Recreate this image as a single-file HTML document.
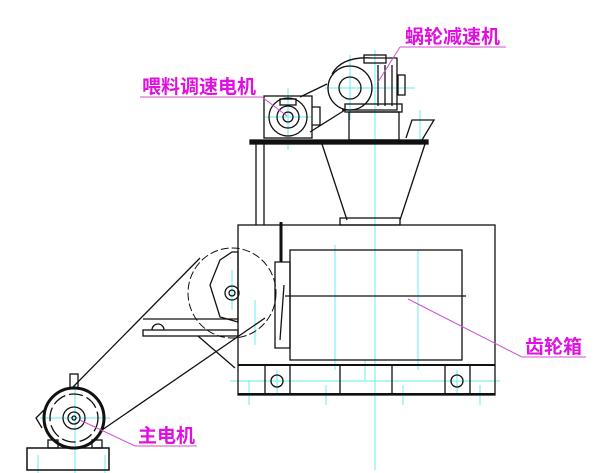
<!DOCTYPE html>
<html><head><meta charset="utf-8"><style>
html,body{margin:0;padding:0;background:#fff;width:600px;height:473px;overflow:hidden}
svg{display:block}
text{font-family:"Liberation Sans","Noto Sans CJK SC",sans-serif;fill:#e010e0;font-size:19px;font-weight:bold}
</style></head><body>
<svg width="600" height="473" viewBox="0 0 600 473" xmlns="http://www.w3.org/2000/svg">
<g stroke="#6ee" stroke-width="1" fill="none">
<line x1="375" y1="50" x2="375" y2="470"/>
<line x1="288" y1="88" x2="288" y2="150"/>
<line x1="350" y1="55" x2="350" y2="120"/>
<line x1="325" y1="88" x2="415" y2="88"/>
<line x1="265" y1="117" x2="312" y2="117"/>
<line x1="420" y1="110" x2="420" y2="145"/>
<line x1="335" y1="245" x2="335" y2="370"/>
<line x1="418" y1="250" x2="418" y2="370"/>
<line x1="365" y1="360" x2="365" y2="380"/>
<line x1="255" y1="300" x2="255" y2="345"/>
<line x1="230" y1="381" x2="500" y2="381"/>
<line x1="277" y1="370" x2="277" y2="395"/>
<line x1="457" y1="370" x2="457" y2="395"/>
<line x1="249" y1="380" x2="249" y2="405"/>
<line x1="326" y1="385" x2="326" y2="405"/>
<line x1="403" y1="385" x2="403" y2="405"/>
<line x1="480" y1="385" x2="480" y2="405"/>
<line x1="75" y1="385" x2="75" y2="473"/>
<line x1="40" y1="418" x2="110" y2="418"/>
<line x1="38" y1="455" x2="38" y2="473"/>
<line x1="105" y1="455" x2="105" y2="473"/>
<line x1="232" y1="270" x2="232" y2="310"/>
</g>
<g stroke="#111" stroke-width="1.3" fill="none">
<rect x="238" y="225" width="257" height="170"/>
<line x1="238" y1="365" x2="495" y2="365" stroke-width="2"/>
<line x1="238" y1="394" x2="495" y2="394" stroke-width="2"/>
<line x1="265" y1="365" x2="265" y2="394"/><line x1="290" y1="365" x2="290" y2="394"/>
<line x1="340" y1="365" x2="340" y2="394"/><line x1="392" y1="365" x2="392" y2="394"/>
<line x1="445" y1="365" x2="445" y2="394"/><line x1="470" y1="365" x2="470" y2="394"/>
<circle cx="277" cy="381" r="6"/><circle cx="457" cy="381" r="6"/>
<rect x="290" y="250" width="172" height="110"/>
<line x1="285" y1="296" x2="466" y2="296"/>
<polygon points="275,262 290,262 290,348 275,348"/>
<line x1="284" y1="285" x2="280" y2="340"/>
<line x1="281" y1="222" x2="281" y2="262" stroke-width="3"/>
<rect x="340" y="218" width="60" height="7"/>
<ellipse cx="232" cy="293" rx="44" ry="45" stroke-dasharray="8,3" stroke-width="1"/>
<path d="M210,285 l10,-25 l12,-8 l6,0 v70 l-18,-5 z"/>
<circle cx="232" cy="293" r="7"/><circle cx="232" cy="293" r="3"/>
<rect x="143" y="330" width="95" height="6"/>
<path d="M152,330 a6,6 0 0 1 12,0"/>
<line x1="143" y1="319" x2="238" y2="319"/>
<line x1="198" y1="336" x2="235" y2="368"/>
<line x1="72" y1="388" x2="200" y2="258"/>
<line x1="102" y1="430" x2="265" y2="318"/>
<circle cx="74" cy="418" r="30" stroke-width="3"/>
<circle cx="74" cy="418" r="24" stroke-dasharray="14,4"/>
<circle cx="74" cy="418" r="11"/><circle cx="74" cy="418" r="6"/><circle cx="74" cy="418" r="2"/>
<rect x="70" y="374" width="8" height="14"/>
<path d="M44,410 l-8,8 l6,10"/>
<rect x="27" y="448" width="82" height="22" stroke-width="1.5"/>
<rect x="48" y="440" width="10" height="8"/><rect x="92" y="440" width="10" height="8"/>
<rect x="250" y="140" width="178" height="4" fill="#111"/>
<line x1="256" y1="144" x2="256" y2="225"/><line x1="264" y1="144" x2="264" y2="225"/>
<line x1="322" y1="144" x2="347" y2="220"/>
<line x1="425" y1="144" x2="400" y2="220"/>
<path d="M406,138 l6,-18 h22 l-12,20"/>
<rect x="264" y="96" width="48" height="42"/>
<circle cx="288" cy="117" r="19"/><circle cx="288" cy="117" r="11"/><circle cx="288" cy="117" r="5"/>
<rect x="280" y="99" width="16" height="6"/>
<path d="M312,107 h8 v18 h-8"/>
<circle cx="350" cy="88" r="22"/><circle cx="350" cy="88" r="11"/>
<path d="M332,74 q10,-18 40,-16 h25 v52 h-55"/>
<rect x="364" y="55" width="22" height="8"/>
<line x1="378" y1="65" x2="378" y2="106"/><line x1="385" y1="65" x2="385" y2="106"/><line x1="392" y1="65" x2="392" y2="106"/>
<rect x="398" y="75" width="7" height="20"/>
<rect x="345" y="104" width="57" height="8"/>
<rect x="349" y="112" width="50" height="28"/>
<line x1="300" y1="97" x2="327" y2="84"/>
<line x1="310" y1="132" x2="345" y2="110"/>
</g>
<g stroke="#d050d0" stroke-width="1" fill="none">
<line x1="400" y1="47" x2="506" y2="47"/><line x1="400" y1="47" x2="378" y2="82"/>
<line x1="140" y1="97" x2="262" y2="97"/><line x1="262" y1="97" x2="287" y2="116"/>
<line x1="522" y1="357" x2="586" y2="357"/><line x1="522" y1="357" x2="408" y2="299"/>
<line x1="135" y1="446" x2="197" y2="446"/><line x1="135" y1="446" x2="80" y2="420"/>
</g>
<text x="405" y="43">蜗轮减速机</text>
<text x="142" y="93">喂料调速电机</text>
<text x="525" y="353">齿轮箱</text>
<text x="138" y="442">主电机</text>
</svg>
</body></html>
